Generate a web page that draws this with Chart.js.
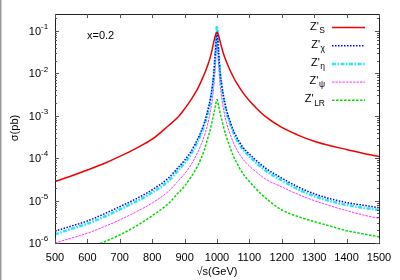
<!DOCTYPE html>
<html>
<head>
<meta charset="utf-8">
<script src="https://cdn.jsdelivr.net/npm/chart.js@4.4.1/dist/chart.umd.min.js"></script>
<style>
  html, body { margin: 0; padding: 0; background: #fff; }
  #wrap { width: 400px; height: 280px; position: relative; }
</style>
</head>
<body>
<div id="wrap"><canvas id="c" width="400" height="280"></canvas></div>
<script>
// sqrt(s) in GeV
const energies = [500, 550, 600, 650, 700, 750, 800, 850, 880, 900, 920, 940, 950, 960, 970, 980, 985, 990, 995, 1000,
  1005, 1010, 1015, 1020, 1030, 1040, 1050, 1060, 1080, 1100, 1120, 1150, 1200, 1250, 1300, 1350, 1400, 1450, 1500];

// sigma (pb)
const sigmaS = [2.8e-5, 3.8e-5, 5.25e-5, 7.4e-5, 1.1e-4, 1.7e-4, 2.8e-4, 5.8e-4, 9.3e-4, 1.45e-3, 2.4e-3, 4.3e-3, 6.2e-3, 9.3e-3, 1.45e-2, 2.5e-2, 3.6e-2, 5.5e-2, 7.8e-2, 9.3e-2,
  7.8e-2, 5.5e-2, 3.9e-2, 2.9e-2, 1.8e-2, 1.2e-2, 8.3e-3, 6e-3, 3.5e-3, 2.25e-3, 1.55e-3, 9.5e-4, 5.3e-4, 3.5e-4, 2.5e-4, 1.95e-4, 1.6e-4, 1.3e-4, 1.1e-4];
const sigmaChi = [1.9e-6, 2.5e-6, 3.3e-6, 4.8e-6, 7.2e-6, 1.1e-5, 1.8e-5, 3.4e-5, 6e-5, 8.9e-5, 1.45e-4, 2.8e-4, 4.1e-4, 6.5e-4, 1.2e-3, 2.6e-3, 4.5e-3, 9.5e-3, 3e-2, 9.5e-2,
  3e-2, 1e-2, 5e-3, 2.9e-3, 1.3e-3, 7.5e-4, 4.6e-4, 3.2e-4, 1.8e-4, 1.25e-4, 9e-5, 5.8e-5, 3.4e-5, 2.1e-5, 1.45e-5, 1.1e-5, 9e-6, 7.8e-6, 6.8e-6];
const sigmaEta = [1.6e-6, 2.15e-6, 2.85e-6, 4.1e-6, 6.2e-6, 9.5e-6, 1.55e-5, 2.9e-5, 5.2e-5, 7.7e-5, 1.25e-4, 2.45e-4, 3.6e-4, 5.7e-4, 1.05e-3, 2.3e-3, 4e-3, 8.5e-3, 3e-2, 1.3e-1,
  3e-2, 9e-3, 4.4e-3, 2.6e-3, 1.15e-3, 6.6e-4, 4.1e-4, 2.8e-4, 1.6e-4, 1.1e-4, 7.9e-5, 5.1e-5, 3e-5, 1.85e-5, 1.28e-5, 9.7e-6, 7.9e-6, 6.8e-6, 6e-6];
const sigmaPsi = [1e-6, 1.3e-6, 1.7e-6, 2.4e-6, 3.5e-6, 5.4e-6, 8.8e-6, 1.65e-5, 2.9e-5, 4.3e-5, 7e-5, 1.35e-4, 2e-4, 3.2e-4, 5.8e-4, 1.3e-3, 2.2e-3, 4.7e-3, 1.5e-2, 5e-2,
  1.5e-2, 5e-3, 2.5e-3, 1.45e-3, 6.5e-4, 3.8e-4, 2.4e-4, 1.65e-4, 9.5e-5, 6.5e-5, 4.8e-5, 3.2e-5, 2.1e-5, 1.4e-5, 1e-5, 7.5e-6, 5.8e-6, 4.6e-6, 3.8e-6];
const sigmaLR = [4e-7, 5.5e-7, 7.5e-7, 1.05e-6, 1.55e-6, 2.5e-6, 4.4e-6, 8.5e-6, 1.5e-5, 2.2e-5, 3.6e-5, 6.5e-5, 9.5e-5, 1.5e-4, 2.7e-4, 5e-4, 7.5e-4, 1.1e-3, 1.7e-3, 2.4e-3,
  1.7e-3, 1.1e-3, 8e-4, 5.5e-4, 3e-4, 1.8e-4, 1.15e-4, 8e-5, 4.3e-5, 2.8e-5, 1.9e-5, 1.15e-5, 6e-6, 4.2e-6, 3.2e-6, 2.5e-6, 1.95e-6, 1.65e-6, 1.4e-6];

const xTicks = [500, 600, 700, 800, 900, 1000, 1100, 1200, 1300, 1400, 1500];
const yDecades = [-6, -5, -4, -3, -2, -1];
const seriesSubs = ['S', 'χ', 'η', 'ψ', 'LR'];

const FONT = "'Liberation Sans', Arial, sans-serif";

const styles = [
  {color: '#f00000', width: 1.5, dash: []},
  {color: '#0000ff', width: 1.5, dash: [1.5, 1.5]},
  {color: '#22e6ff', width: 2.5, dash: [4, 1.5, 1.5, 1.5]},
  {color: '#ff33ff', width: 1, dash: [2.5, 1]},
  {color: '#00dd00', width: 1.5, dash: [2.5, 1.5]}
];

const allSeries = [sigmaS, sigmaChi, sigmaEta, sigmaPsi, sigmaLR];

const datasets = allSeries.map((vals, i) => ({
  label: "Z'" + seriesSubs[i],
  data: energies.map((e, k) => ({x: e, y: vals[k]})),
  borderColor: styles[i].color,
  borderWidth: styles[i].width,
  borderDash: styles[i].dash,
  pointRadius: 0,
  cubicInterpolationMode: 'monotone',
  clip: 0,
  fill: false
}));

const decor = {
  id: 'decor',
  afterDraw(chart) {
    const {ctx, chartArea: a, scales: {x, y}} = chart;
    ctx.save();
    // left edge strip of the picture
    ctx.fillStyle = '#999';
    ctx.fillRect(0, 0, 1.5, chart.height);

    // frame
    ctx.strokeStyle = '#222';
    ctx.lineWidth = 1;
    ctx.strokeRect(Math.round(a.left) + 0.5, Math.round(a.top) + 0.5, Math.round(a.right - a.left), Math.round(a.bottom - a.top));

    // tick marks, inward on all sides
    ctx.strokeStyle = '#555';
    ctx.beginPath();
    xTicks.forEach(v => {
      const px = Math.round(x.getPixelForValue(v)) + 0.5;
      ctx.moveTo(px, a.bottom); ctx.lineTo(px, a.bottom - 4);
      ctx.moveTo(px, a.top); ctx.lineTo(px, a.top + 4);
    });
    yDecades.forEach(e => {
      for (let m = 1; m <= 9; m++) {
        const v = m * Math.pow(10, e);
        if (v > y.max) continue;
        const py = Math.round(y.getPixelForValue(v)) + 0.5;
        const len = m === 1 ? 4 : 2;
        ctx.moveTo(a.left, py); ctx.lineTo(a.left + len, py);
        ctx.moveTo(a.right, py); ctx.lineTo(a.right - len, py);
      }
    });
    ctx.stroke();

    // y tick labels 10^n
    ctx.fillStyle = '#000';
    ctx.textBaseline = 'middle';
    yDecades.forEach(e => {
      const py = y.getPixelForValue(Math.pow(10, e));
      ctx.font = '11px ' + FONT;
      ctx.textAlign = 'right';
      ctx.fillText('10', 41, py + 1);
      ctx.font = '8px ' + FONT;
      ctx.textAlign = 'left';
      ctx.fillText(String(e), 41, py - 4);
    });

    // axis titles
    ctx.font = '11px ' + FONT;
    ctx.textAlign = 'center';
    ctx.fillText('√s(GeV)', (a.left + a.right) / 2, 272);
    ctx.save();
    ctx.translate(15, 128);
    ctx.rotate(-Math.PI / 2);
    ctx.fillText('σ(pb)', 0, 0);
    ctx.restore();

    // x=0.2 note
    ctx.textAlign = 'left';
    ctx.fillText('x=0.2', 87, 36);

    // legend
    datasets.forEach((ds, i) => {
      const ly = 27.5 + i * 18.2;
      ctx.font = '8.5px ' + FONT;
      const sub = seriesSubs[i];
      const sw = ctx.measureText(sub).width;
      ctx.textAlign = 'right';
      ctx.fillText(sub, 325, ly + 3);
      ctx.font = '11px ' + FONT;
      ctx.fillText("Z'", 325 - sw - 0.5, ly - 1);
      ctx.strokeStyle = ds.borderColor;
      ctx.lineWidth = ds.borderWidth;
      ctx.setLineDash(ds.borderDash);
      ctx.beginPath();
      ctx.moveTo(332, ly); ctx.lineTo(365, ly);
      ctx.stroke();
      ctx.setLineDash([]);
    });
    ctx.restore();
  }
};

new Chart(document.getElementById('c'), {
  type: 'line',
  data: {datasets},
  options: {
    responsive: false,
    animation: false,
    events: [],
    layout: {padding: {left: 0, right: 21, top: 14, bottom: 0}},
    plugins: {legend: {display: false}, tooltip: {enabled: false}},
    scales: {
      x: {
        type: 'linear', min: 500, max: 1500,
        grid: {display: false}, border: {display: false},
        afterBuildTicks: s => { s.ticks = xTicks.map(v => ({value: v})); },
        afterFit: s => { s.height = 37; },
        ticks: {autoSkip: false, maxRotation: 0, padding: 0, color: '#000', font: {family: FONT, size: 11}, callback: v => String(v)}
      },
      y: {
        type: 'logarithmic', min: 1e-6, max: 0.25,
        grid: {display: false}, border: {display: false},
        ticks: {display: false},
        afterFit: s => { s.width = 55; }
      }
    }
  },
  plugins: [decor]
});
</script>
</body>
</html>
